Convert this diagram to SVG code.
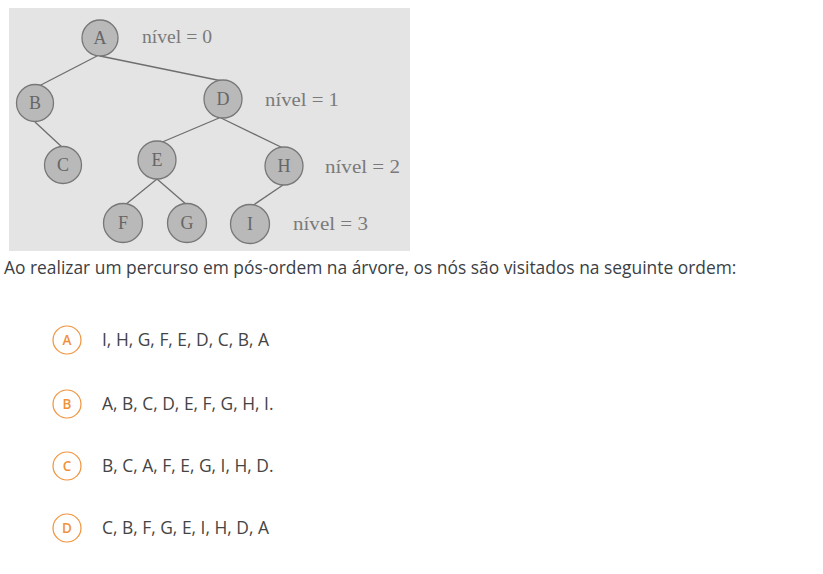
<svg xmlns="http://www.w3.org/2000/svg" width="823" height="574" viewBox="0 0 823 574">
<style>
.node circle{fill:#b9b9b9;stroke:#777;stroke-width:1.3}
.node text{font-family:"Liberation Serif",serif;font-size:18px;fill:#666;text-anchor:middle}
.lvl{font-family:"Liberation Serif",serif;font-size:18.5px;fill:#7a7a7a}
.edges line{stroke:#6e6e6e;stroke-width:1.3}
.q{font-family:"Open Sans",sans-serif;font-size:17.4px;fill:#3b3f45}
.badge circle{fill:#fff;stroke:#f0923a;stroke-width:1.2}
.badge text{font-family:"Open Sans",sans-serif;font-size:13.5px;font-weight:600;fill:#f0923a;text-anchor:middle}
.opt{font-family:"Open Sans",sans-serif;font-size:17.4px;fill:#444}
</style>
<rect width="823" height="574" fill="#fff"/>
<rect x="9" y="8" width="401" height="243" fill="#e4e4e4"/>
<g class="edges">
<line x1="97" y1="56" x2="37" y2="87"/>
<line x1="100" y1="56" x2="222" y2="81"/>
<line x1="35" y1="122" x2="63" y2="148"/>
<line x1="219" y1="118" x2="160" y2="143"/>
<line x1="221" y1="118" x2="285" y2="149"/>
<line x1="157" y1="179" x2="125" y2="205"/>
<line x1="157" y1="179" x2="187" y2="205"/>
<line x1="283" y1="185" x2="252" y2="206"/>
</g>
<g id="node-A" class="node"><circle cx="100" cy="38" r="18"/><text x="100" y="44">A</text></g>
<g id="node-B" class="node"><circle cx="35" cy="103" r="18.5"/><text x="35" y="109">B</text></g>
<g id="node-D" class="node"><circle cx="223" cy="99" r="19"/><text x="223" y="105">D</text></g>
<g id="node-C" class="node"><circle cx="63" cy="165" r="18.5"/><text x="63" y="171">C</text></g>
<g id="node-E" class="node"><circle cx="157" cy="160" r="19"/><text x="157" y="166">E</text></g>
<g id="node-H" class="node"><circle cx="284" cy="166" r="19"/><text x="284" y="172">H</text></g>
<g id="node-F" class="node"><circle cx="123" cy="223" r="19.5"/><text x="123" y="229">F</text></g>
<g id="node-G" class="node"><circle cx="187" cy="223" r="19.5"/><text x="187" y="229">G</text></g>
<g id="node-I" class="node"><circle cx="250" cy="224" r="19.5"/><text x="250" y="230">I</text></g>
<text class="lvl" x="142" y="43" textLength="70" lengthAdjust="spacingAndGlyphs">nível = 0</text>
<text class="lvl" x="265" y="106" textLength="74" lengthAdjust="spacingAndGlyphs">nível = 1</text>
<text class="lvl" x="325" y="173" textLength="75" lengthAdjust="spacingAndGlyphs">nível = 2</text>
<text class="lvl" x="293" y="230" textLength="75" lengthAdjust="spacingAndGlyphs">nível = 3</text>
<text class="q" x="4" y="274">Ao realizar um percurso em pós-ordem na árvore, os nós são visitados na seguinte ordem:</text>
<g id="opt-A"><g class="badge"><circle cx="67" cy="340" r="14"/><text x="67" y="345">A</text></g><text class="opt" x="102" y="346">I, H, G, F, E, D, C, B, A</text></g>
<g id="opt-B"><g class="badge"><circle cx="67" cy="404" r="14"/><text x="67" y="409">B</text></g><text class="opt" x="102" y="410">A, B, C, D, E, F, G, H, I.</text></g>
<g id="opt-C"><g class="badge"><circle cx="67" cy="466" r="14"/><text x="67" y="471">C</text></g><text class="opt" x="102" y="472">B, C, A, F, E, G, I, H, D.</text></g>
<g id="opt-D"><g class="badge"><circle cx="67" cy="528" r="14"/><text x="67" y="533">D</text></g><text class="opt" x="102" y="534">C, B, F, G, E, I, H, D, A</text></g>
</svg>
